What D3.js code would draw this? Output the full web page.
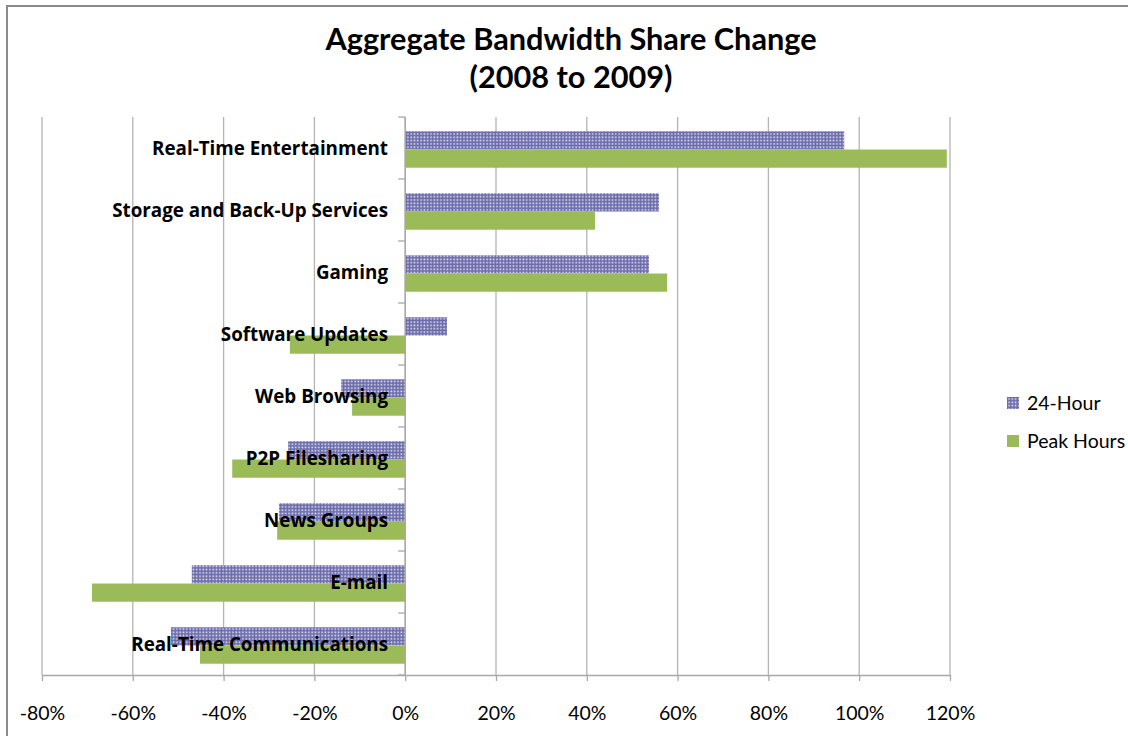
<!DOCTYPE html>
<html><head><meta charset="utf-8">
<script src="https://cdn.jsdelivr.net/npm/d3@7"></script>
<style>body{margin:0;background:#fff}svg{display:block}</style>
</head><body>
<svg id="c" width="1128" height="736"></svg>
<script>
const titleLines = ["Aggregate Bandwidth Share Change", "(2008 to 2009)"];
const categories = ["Real-Time Entertainment","Storage and Back-Up Services","Gaming","Software Updates","Web Browsing","P2P Filesharing","News Groups","E-mail","Real-Time Communications"];
const seriesNames = ["24-Hour","Peak Hours"];
const hour24 = [96.7, 55.9, 53.7, 9.2, -14.1, -25.8, -27.8, -47.0, -51.6];
const peakHours = [119.3, 41.8, 57.7, -25.4, -11.7, -38.1, -28.2, -69.0, -45.2];
const xTicks = [-80,-60,-40,-20,0,20,40,60,80,100,120];

const svg = d3.select("#c");
const font = "Lato, 'Open Sans', sans-serif";
const catFont = "'Open Sans', Lato, sans-serif";
const defs = svg.append("defs");
const pat = defs.append("pattern").attr("id","dots").attr("patternUnits","userSpaceOnUse").attr("width",3.3).attr("height",3.3);
pat.append("rect").attr("width",3.3).attr("height",3.3).attr("fill","#6a6aaa");
pat.append("rect").attr("x",1.2).attr("y",1.2).attr("width",1.6).attr("height",1.6).attr("fill","#e4e4f4");
const colors = ["url(#dots)","#9bbb59"];

// frame
svg.append("path").attr("d","M7,736 V6 H1128").attr("fill","none").attr("stroke","#8a8a8a").attr("stroke-width",2);

const x = d3.scaleLinear().domain([-80,120]).range([42,950]);
const y = d3.scaleBand().domain(categories).range([117,675]);
const ys = d3.scaleBand().domain(seriesNames).range([0,y.bandwidth()]).paddingOuter(0.7);

// gridlines
svg.append("g").selectAll("line").data(xTicks).join("line")
  .attr("x1",d=>x(d)).attr("x2",d=>x(d)).attr("y1",117).attr("y2",675)
  .attr("stroke","#b4b4b4").attr("stroke-width",1.3);

// bars
const data = [];
categories.forEach((c,i)=>{ data.push({c,s:seriesNames[0],v:hour24[i]}); data.push({c,s:seriesNames[1],v:peakHours[i]}); });
svg.append("g").selectAll("rect").data(data).join("rect")
  .attr("x",d=>x(Math.min(0,d.v))).attr("width",d=>Math.abs(x(d.v)-x(0)))
  .attr("y",d=>y(d.c)+ys(d.s)+1.5).attr("height",ys.bandwidth())
  .attr("fill",d=>colors[seriesNames.indexOf(d.s)]);

// bottom axis
const xa = svg.append("g").attr("transform","translate(0,675)")
  .call(d3.axisBottom(x).tickValues(xTicks).tickSize(6).tickPadding(25).tickFormat(d=>d+"%"));
xa.selectAll("path,line").attr("stroke","#a8a8a8").attr("stroke-width",1.3);
xa.select(".domain").attr("d","M42,0.5H950");
xa.selectAll("text").attr("font-family",font).attr("font-size",19.5).attr("fill","#000");

// category axis at 0
const ya = svg.append("g");
ya.append("line").attr("x1",x(0)).attr("x2",x(0)).attr("y1",117).attr("y2",675).attr("stroke","#a8a8a8").attr("stroke-width",1.3);
const bounds = categories.map(c=>y(c)).concat([675]);
ya.selectAll("line.t").data(bounds).join("line").attr("class","t")
  .attr("x1",x(0)-7).attr("x2",x(0)).attr("y1",d=>d).attr("y2",d=>d).attr("stroke","#a8a8a8").attr("stroke-width",1.3);
ya.selectAll("text").data(categories).join("text")
  .attr("x",388).attr("y",d=>y(d)+y.bandwidth()/2+7)
  .attr("text-anchor","end").attr("font-family",catFont).attr("font-weight","bold").attr("font-size",18.8).attr("fill","#000")
  .text(d=>d);

// title
svg.append("g").selectAll("text").data(titleLines).join("text")
  .attr("x",571).attr("y",(d,i)=>50+i*38).attr("text-anchor","middle")
  .attr("font-family",font).attr("font-weight","bold").attr("font-size",30.7).attr("fill","#000").text(d=>d);

// legend
const lg = svg.append("g").selectAll("g").data(seriesNames).join("g")
  .attr("transform",(d,i)=>`translate(1007,${397+i*38})`);
lg.append("rect").attr("width",12).attr("height",12).attr("fill",(d,i)=>colors[i]);
lg.append("text").attr("x",20).attr("y",13).attr("font-family",font).attr("font-size",19.5).attr("fill","#000").text(d=>d);
</script>
</body></html>
